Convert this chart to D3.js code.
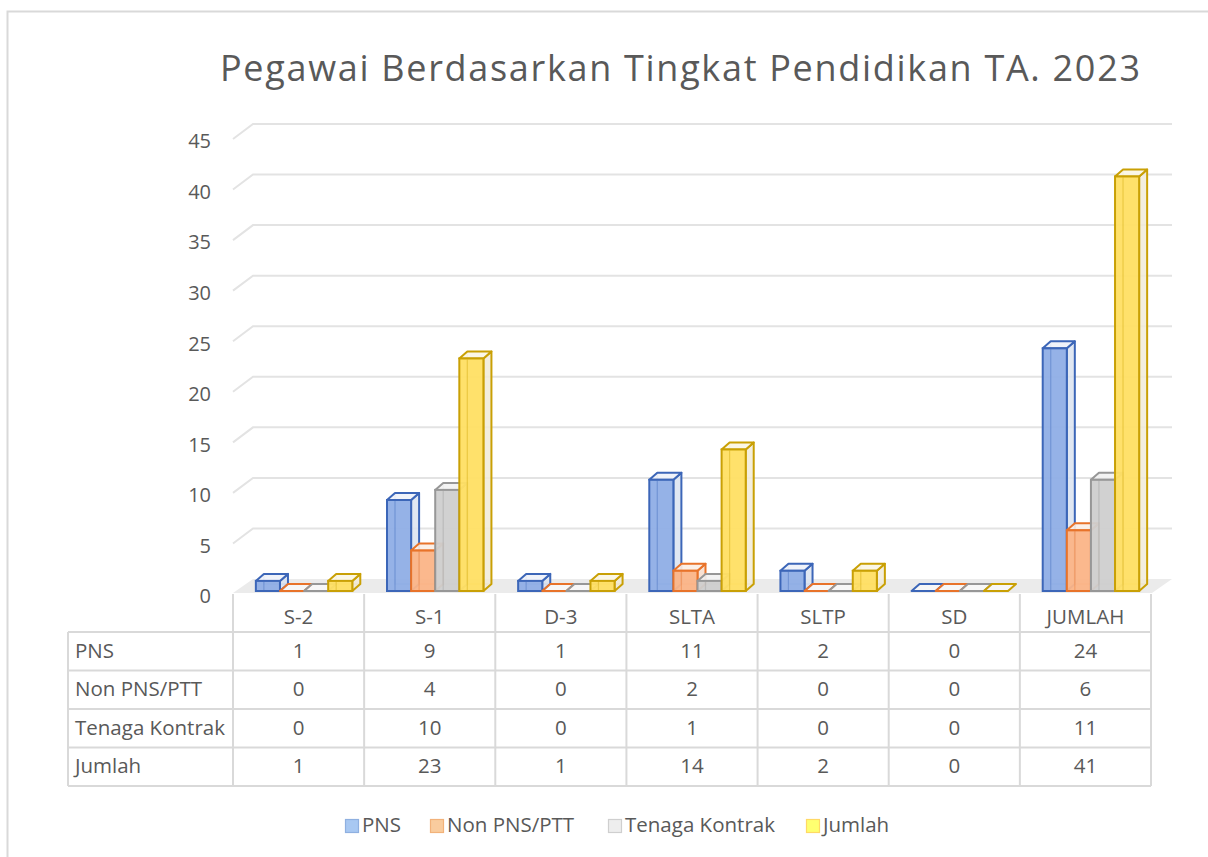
<!DOCTYPE html>
<html><head><meta charset="utf-8">
<script src="https://cdn.jsdelivr.net/npm/d3@7"></script>
<style>body{margin:0;background:#fff}svg{display:block}text{font-family:"Open Sans",sans-serif;fill:#595959}</style>
</head><body><svg id="c" width="1208" height="857"></svg>
<script>
const categories = ["S-2","S-1","D-3","SLTA","SLTP","SD","JUMLAH"];
const seriesNames = ["PNS","Non PNS/PTT","Tenaga Kontrak","Jumlah"];
const pns = [1,9,1,11,2,0,24];
const nonPns = [0,4,0,2,0,0,6];
const kontrak = [0,10,0,1,0,0,11];
const jumlah = [1,23,1,14,2,0,41];
const yTicks = [0,5,10,15,20,25,30,35,40,45];
const title = "Pegawai Berdasarkan Tingkat Pendidikan TA. 2023";

const values = [pns, nonPns, kontrak, jumlah];
const styles = [
  {front:"#8faee6", side:"#dbe3f0", top:"#eef2fa", stroke:"#3c66b8", lf:"#a8c8f2", ls:"#8fb0e0"},
  {front:"#fbb487", side:"#f6dccb", top:"#fbeee5", stroke:"#e8732a", lf:"#f9cc9e", ls:"#f2b27a"},
  {front:"#cfcfcf", side:"#e6e6e6", top:"#f2f2f2", stroke:"#979797", lf:"#eeeeee", ls:"#cfcfcf"},
  {front:"#ffdf63", side:"#f1ebd8", top:"#fbf6e4", stroke:"#c9a005", lf:"#ffff70", ls:"#ffd966"}
];

const svg = d3.select("#c");
svg.append("rect").attr("x",7.5).attr("y",11.5).attr("width",1220).attr("height",870)
  .attr("fill","#fff").attr("stroke","#d9d9d9").attr("stroke-width",2);

svg.append("text").attr("x",680).attr("y",81).attr("text-anchor","middle")
  .attr("font-size",36).attr("textLength",920).attr("lengthAdjust","spacing").text(title);

const yBack = d3.scaleLinear().domain([0,45]).range([579,124]);
const x0 = d3.scaleBand().domain(categories).range([233,1151]).paddingInner(0).paddingOuter(0);
const x1 = d3.scaleBand().domain(seriesNames).range([0,x0.bandwidth()]).paddingInner(0).paddingOuter(0.72);
const frontDX = -20, frontDY = 14;
const barDX = 8, barDY = -7, barOff = 12, barShift = 5.5;
const fs = 20.5;

const backL = 253, backR = 1172;
svg.append("path").attr("fill","#ebebeb")
  .attr("d",`M${backL},${yBack(0)}L${backR},${yBack(0)}L${backR+frontDX},${yBack(0)+frontDY}L${backL+frontDX},${yBack(0)+frontDY}Z`);

const g = svg.append("g");
yTicks.filter(t=>t>0).forEach(t=>{
  const yb = yBack(t);
  g.append("path").attr("fill","none").attr("stroke","#e3e3e3").attr("stroke-width",2)
   .attr("d",`M${backL+frontDX},${yb+frontDY+1}L${backL},${yb}L${backR},${yb}`);
});
yTicks.forEach(t=>{
  svg.append("text").attr("x",211).attr("y",yBack(t)+frontDY+5).attr("text-anchor","end")
    .attr("dominant-baseline","middle").attr("font-size",20).text(t);
});

categories.forEach((c,ci)=>{
  values.forEach((arr,si)=>{
    const v = arr[ci], st = styles[si];
    const xf = x0(c)+x1(seriesNames[si])+barShift, w = x1.bandwidth();
    const yt = yBack(v)+barOff, yb = yBack(0)+barOff;
    const bg = svg.append("g");
    if (v>0){
      bg.append("path").attr("fill","none").attr("stroke",st.stroke).attr("stroke-opacity",0.45).attr("stroke-width",1.5)
        .attr("d",`M${xf+barDX},${yt+barDY}L${xf+barDX},${yb+barDY}L${xf+w+barDX},${yb+barDY}`);
      bg.append("path").attr("fill",st.side).attr("fill-opacity",0.85).attr("stroke",st.stroke).attr("stroke-width",2).attr("stroke-linejoin","round")
        .attr("d",`M${xf+w},${yt}L${xf+w+barDX},${yt+barDY}L${xf+w+barDX},${yb+barDY}L${xf+w},${yb}Z`);
      bg.append("path").attr("fill",st.top).attr("fill-opacity",0.9).attr("stroke",st.stroke).attr("stroke-width",2).attr("stroke-linejoin","round")
        .attr("d",`M${xf},${yt}L${xf+barDX},${yt+barDY}L${xf+w+barDX},${yt+barDY}L${xf+w},${yt}Z`);
      bg.append("rect").attr("x",xf).attr("y",yt).attr("width",w).attr("height",yb-yt)
        .attr("fill",st.front).attr("fill-opacity",0.95).attr("stroke",st.stroke).attr("stroke-width",2);
      bg.append("line").attr("x1",xf+barDX).attr("x2",xf+barDX).attr("y1",yt+1).attr("y2",yb-1)
        .attr("stroke",st.stroke).attr("stroke-opacity",0.35).attr("stroke-width",1.2);
    } else {
      bg.append("path").attr("fill","#ffffff").attr("fill-opacity",0.6).attr("stroke",st.stroke).attr("stroke-width",2).attr("stroke-linejoin","round")
        .attr("d",`M${xf},${yb}L${xf+barDX},${yb+barDY}L${xf+w+barDX},${yb+barDY}L${xf+w},${yb}Z`);
    }
  });
});

const tLeft = 68, tRight = 1151;
const rowY = [632,670.5,709,747.5,786];
const tg = svg.append("g").attr("stroke","#d9d9d9").attr("stroke-width",2);
rowY.forEach(y=>tg.append("line").attr("x1",tLeft).attr("x2",tRight).attr("y1",y).attr("y2",y));
tg.append("line").attr("x1",tLeft).attr("x2",tLeft).attr("y1",rowY[0]).attr("y2",rowY[4]);
const colEdges = categories.map(c=>x0(c)).concat([tRight]);
colEdges.forEach(x=>tg.append("line").attr("x1",x).attr("x2",x).attr("y1",yBack(0)+frontDY+1).attr("y2",rowY[4]));
categories.forEach(c=>{
  svg.append("text").attr("x",x0(c)+x0.bandwidth()/2).attr("y",619).attr("text-anchor","middle")
    .attr("dominant-baseline","middle").attr("font-size",fs).text(c);
});
seriesNames.forEach((s,si)=>{
  const yc = (rowY[si]+rowY[si+1])/2 + 1;
  svg.append("text").attr("x",75).attr("y",yc).attr("dominant-baseline","middle").attr("font-size",fs).text(s);
  categories.forEach((c,ci)=>{
    svg.append("text").attr("x",x0(c)+x0.bandwidth()/2).attr("y",yc).attr("text-anchor","middle")
      .attr("dominant-baseline","middle").attr("font-size",fs).text(values[si][ci]);
  });
});

const legX = [345,430,608,806];
seriesNames.forEach((s,si)=>{
  const st = styles[si];
  svg.append("rect").attr("x",legX[si]+0.5).attr("y",819.5).attr("width",13).attr("height",13)
    .attr("fill",st.lf).attr("stroke",st.ls).attr("stroke-width",1.2);
  svg.append("text").attr("x",legX[si]+17).attr("y",827).attr("dominant-baseline","middle").attr("font-size",fs).text(s);
});
</script></body></html>
